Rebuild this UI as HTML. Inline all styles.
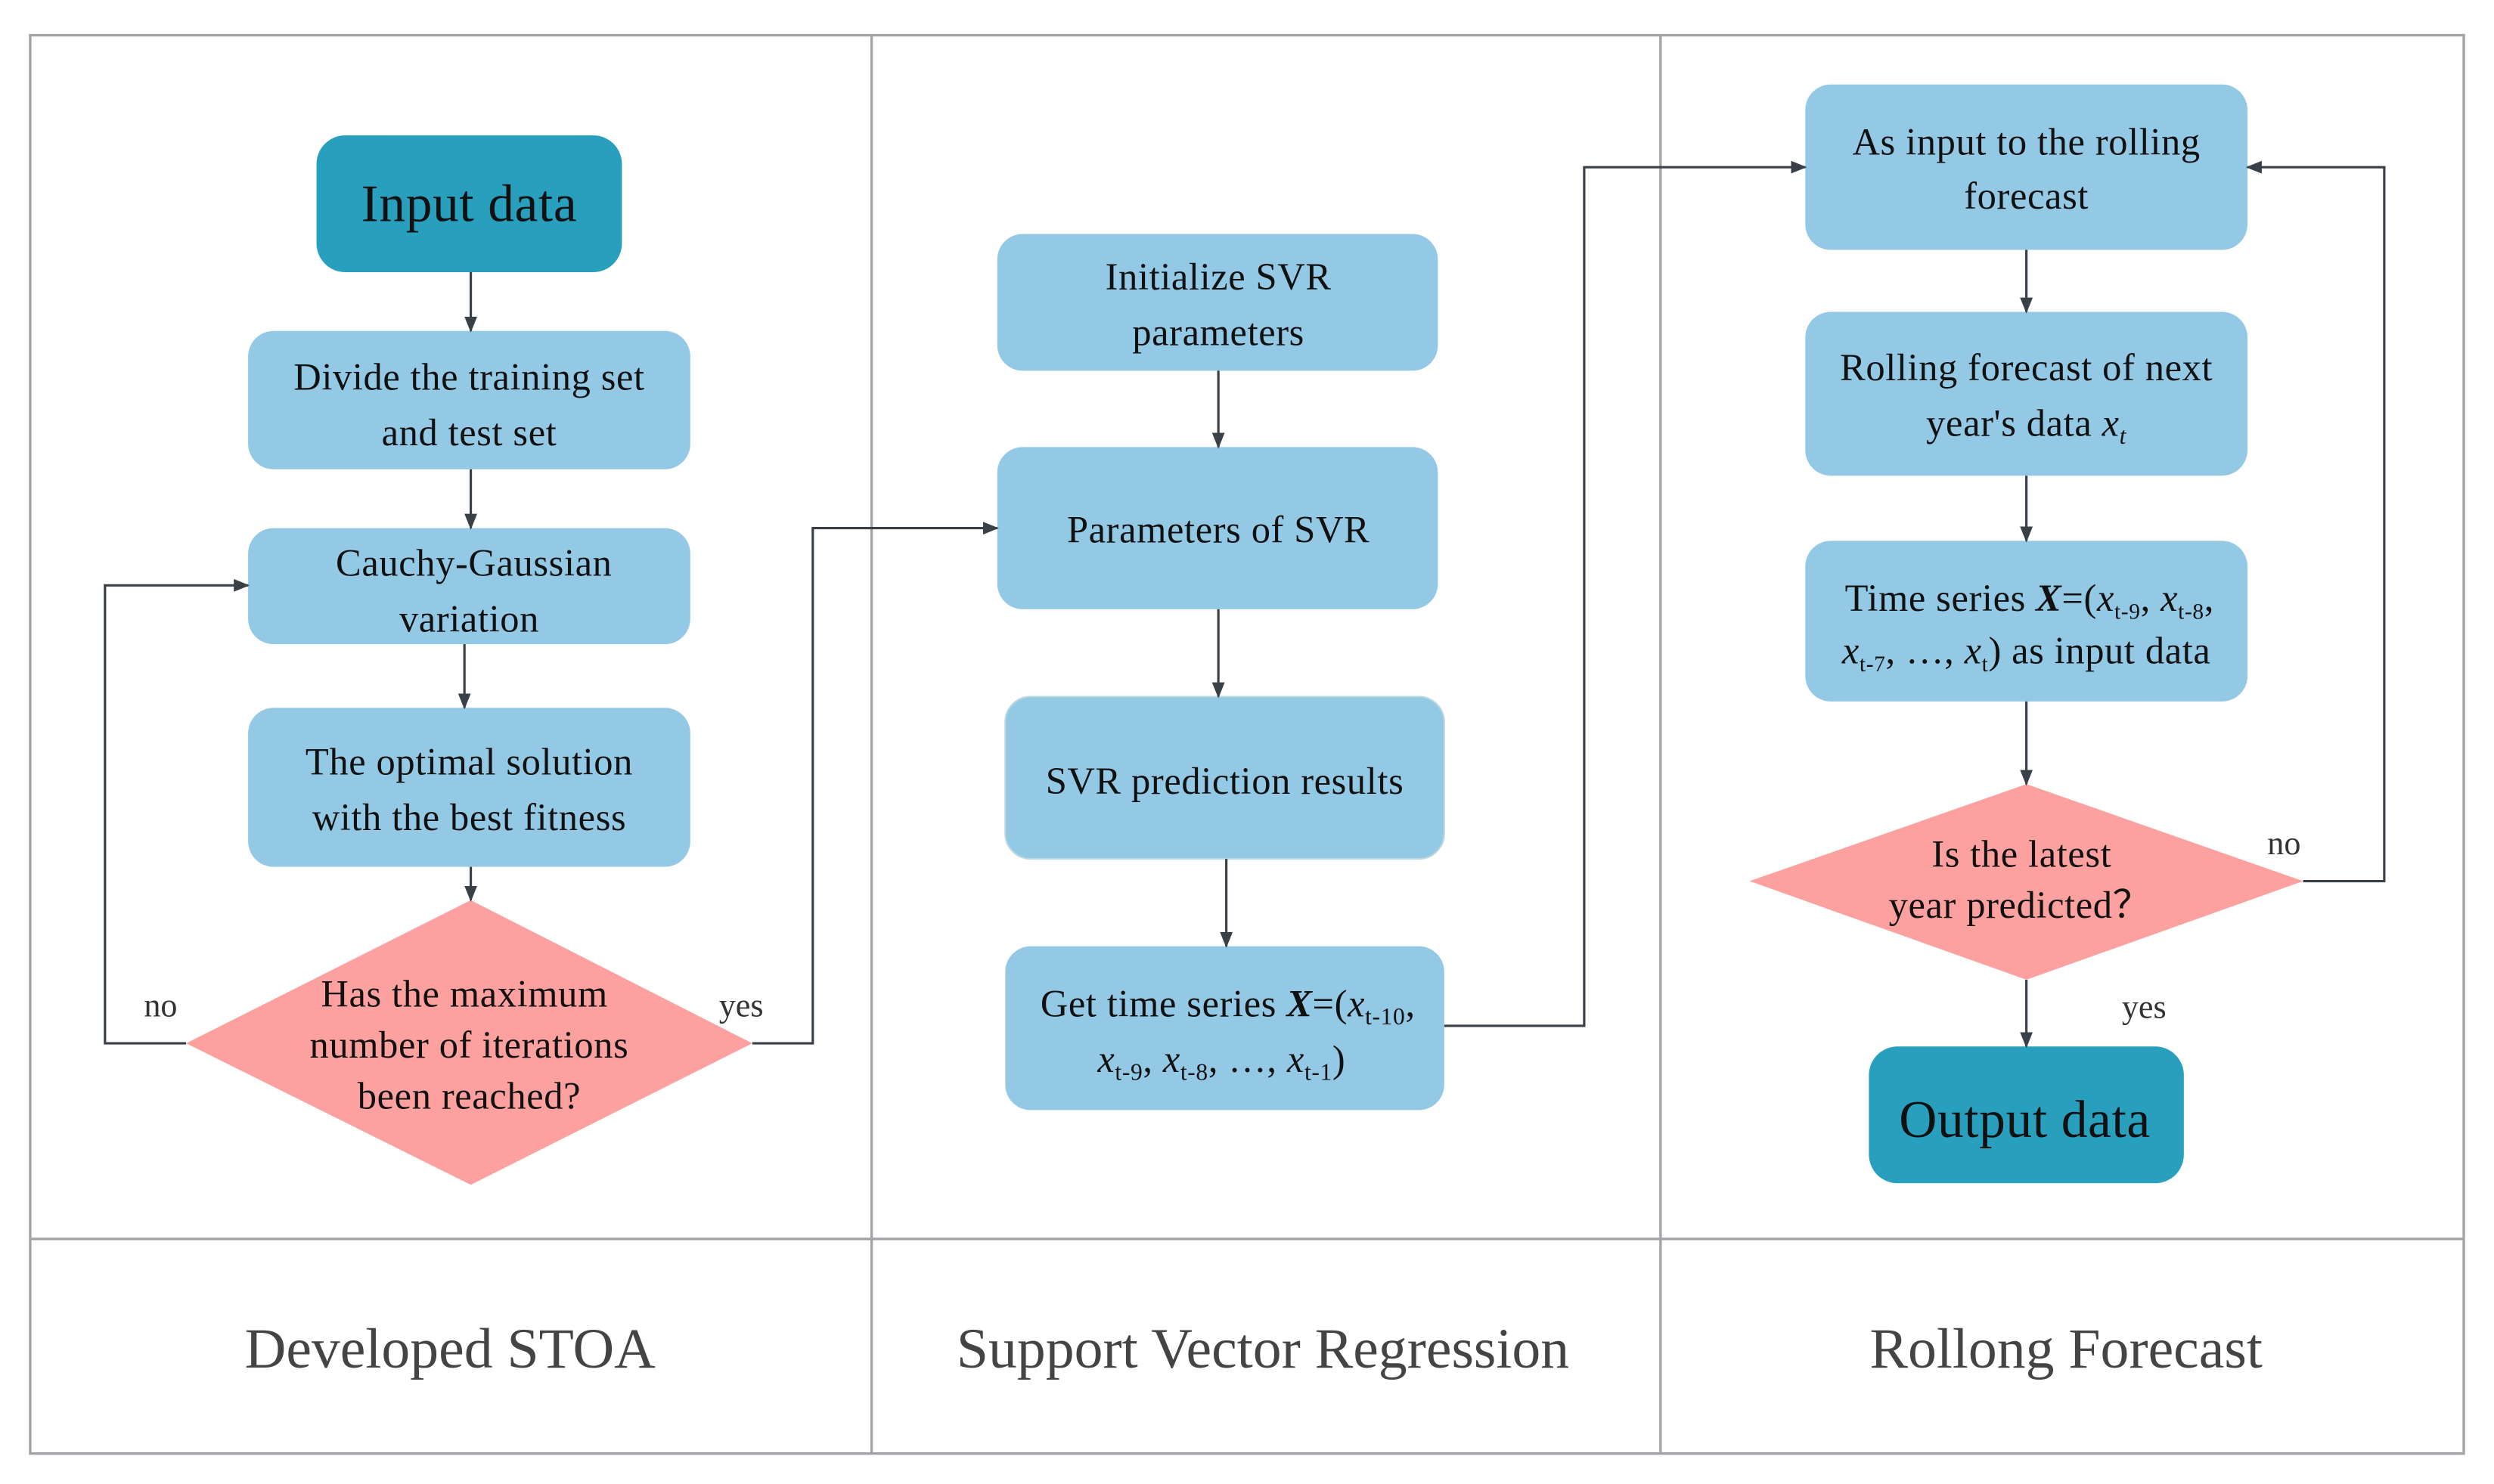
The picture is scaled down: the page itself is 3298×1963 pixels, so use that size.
<!DOCTYPE html>
<html><head><meta charset="utf-8"><style>
html,body{margin:0;padding:0;background:#fff;}
svg{display:block;}
text{font-family:"Liberation Serif",serif;fill:#111;}
</style></head><body>
<svg width="3298" height="1963" viewBox="0 0 1568 933" xmlns="http://www.w3.org/2000/svg">
<defs>
<marker id="a" markerWidth="10" markerHeight="10" refX="9" refY="5" orient="auto" markerUnits="userSpaceOnUse">
<path d="M0,1 L10,5 L0,9 z" fill="#3a4048"/></marker>
</defs>
<rect width="1568" height="933" fill="#fff"/>
<g stroke="#a3a3a8" stroke-width="1.6" fill="none">
<rect x="19" y="22" width="1530" height="892"/>
<line x1="19" y1="779" x2="1549" y2="779"/>
<line x1="548" y1="22" x2="548" y2="914"/>
<line x1="1044" y1="22" x2="1044" y2="914"/>
</g>
<rect x="199" y="85" width="192" height="86" rx="18" fill="#279fbd"/>
<rect x="156" y="208" width="278" height="87" rx="16" fill="#93c9e5"/>
<rect x="156" y="332" width="278" height="73" rx="16" fill="#93c9e5"/>
<rect x="156" y="445" width="278" height="100" rx="16" fill="#93c9e5"/>
<polygon points="296,566 473,656 296,745 117,656" fill="#fca0a0"/>
<rect x="627" y="147" width="277" height="86" rx="16" fill="#93c9e5"/>
<rect x="627" y="281" width="277" height="102" rx="16" fill="#93c9e5"/>
<rect x="632" y="438" width="276" height="102" rx="16" fill="#93c9e5" stroke="#b8d8e0" stroke-width="1"/>
<rect x="632" y="595" width="276" height="103" rx="16" fill="#93c9e5"/>
<rect x="1135" y="53" width="278" height="104" rx="16" fill="#93c9e5"/>
<rect x="1135" y="196" width="278" height="103" rx="16" fill="#93c9e5"/>
<rect x="1135" y="340" width="278" height="101" rx="16" fill="#93c9e5"/>
<polygon points="1274,493 1448,554 1274,616 1100,554" fill="#fca0a0"/>
<rect x="1175" y="658" width="198" height="86" rx="18" fill="#279fbd"/>
<g stroke="#3a4048" stroke-width="1.5" fill="none" marker-end="url(#a)">
<line x1="296" y1="171" x2="296" y2="208"/>
<line x1="296" y1="295" x2="296" y2="332"/>
<line x1="292" y1="405" x2="292" y2="445"/>
<line x1="296" y1="545" x2="296" y2="566"/>
<polyline points="117,656 66,656 66,368 156,368"/>
<polyline points="473,656 511,656 511,332 627,332"/>
<line x1="766" y1="233" x2="766" y2="281"/>
<line x1="766" y1="383" x2="766" y2="438"/>
<line x1="771" y1="540" x2="771" y2="595"/>
<polyline points="908,645 996,645 996,105 1135,105"/>
<line x1="1274" y1="157" x2="1274" y2="196"/>
<line x1="1274" y1="299" x2="1274" y2="340"/>
<line x1="1274" y1="441" x2="1274" y2="493"/>
<line x1="1274" y1="616" x2="1274" y2="658"/>
<polyline points="1448,554 1499,554 1499,105 1413,105"/>
</g>
<g text-anchor="middle" font-size="24" letter-spacing="0.3">
<text x="295" y="139" font-size="33">Input data</text>
<text x="295" y="245">Divide the training set</text>
<text x="295" y="280">and test set</text>
<text x="298" y="362">Cauchy-Gaussian</text>
<text x="295" y="397">variation</text>
<text x="295" y="487">The optimal solution</text>
<text x="295" y="522">with the best fitness</text>
<text x="292" y="633">Has the maximum</text>
<text x="295" y="665">number of iterations</text>
<text x="295" y="697">been reached?</text>
<text x="766" y="182">Initialize SVR</text>
<text x="766" y="217">parameters</text>
<text x="766" y="341">Parameters of SVR</text>
<text x="770" y="499">SVR prediction results</text>
<text x="772" y="639">Get time series <tspan font-style="italic" font-weight="bold">X</tspan>=(<tspan font-style="italic">x</tspan><tspan font-size="15" dy="5">t-10</tspan><tspan dy="-5">,</tspan></text>
<text x="768" y="674"><tspan font-style="italic">x</tspan><tspan font-size="15" dy="5">t-9</tspan><tspan dy="-5">, </tspan><tspan font-style="italic">x</tspan><tspan font-size="15" dy="5">t-8</tspan><tspan dy="-5">, …, </tspan><tspan font-style="italic">x</tspan><tspan font-size="15" dy="5">t-1</tspan><tspan dy="-5">)</tspan></text>
<text x="1274" y="97">As input to the rolling</text>
<text x="1274" y="131">forecast</text>
<text x="1274" y="239">Rolling forecast of next</text>
<text x="1274" y="274">year's data <tspan font-style="italic">x</tspan><tspan font-size="15" dy="5" font-style="italic">t</tspan></text>
<text x="1276" y="384">Time series <tspan font-style="italic" font-weight="bold">X</tspan>=(<tspan font-style="italic">x</tspan><tspan font-size="14" dy="5">t-9</tspan><tspan dy="-5">, </tspan><tspan font-style="italic">x</tspan><tspan font-size="14" dy="5">t-8</tspan><tspan dy="-5">,</tspan></text>
<text x="1274" y="417"><tspan font-style="italic">x</tspan><tspan font-size="14" dy="5">t-7</tspan><tspan dy="-5">, …, </tspan><tspan font-style="italic">x</tspan><tspan font-size="14" dy="5">t</tspan><tspan dy="-5">) as input data</tspan></text>
<text x="1271" y="545">Is the latest</text>
<text x="1270" y="577">year predicted？</text>
<text x="1273" y="715" font-size="33">Output data</text>
</g>
<g font-size="21" text-anchor="middle">
<text x="101" y="639" style="fill:#333">no</text>
<text x="466" y="639" style="fill:#333">yes</text>
<text x="1436" y="537" style="fill:#333">no</text>
<text x="1348" y="640" style="fill:#333">yes</text>
</g>
<g font-size="36" text-anchor="middle">
<text x="283" y="860" style="fill:#444">Developed STOA</text>
<text x="794" y="860" style="fill:#444">Support Vector Regression</text>
<text x="1299" y="860" style="fill:#444">Rollong Forecast</text>
</g>
</svg>
</body></html>
